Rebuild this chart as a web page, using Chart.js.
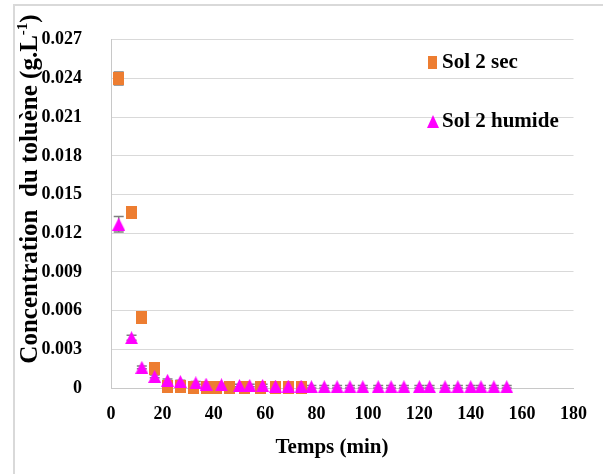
<!DOCTYPE html>
<html>
<head>
<meta charset="utf-8">
<script src="https://cdn.jsdelivr.net/npm/chart.js@4"></script>
<style>
  body { margin: 0; background: #fff; }
  #wrap { width: 603px; height: 474px; }
</style>
</head>
<body>
<div id="wrap"><canvas id="myChart" width="603" height="474"></canvas></div>
<script>
// Sol 2 sec
const timeSec = [3, 8, 12, 17, 22, 27, 32, 37, 41, 46, 52, 58, 64, 69, 74];
const concSec = [0.0240, 0.0136, 0.0055, 0.0015, 0.0001, 0.00008, 0.00005, 0.00005, 0.00005, 0.00005, 0.00005, 0.00005, 0.00005, 0.00005, 0.00005];
const errSec = [0.0005, 0.0002, 0.0001, 0.0001, 0, 0, 0, 0, 0, 0, 0, 0, 0, 0, 0];

// Sol 2 humide
const timeHum = [3, 8, 12, 17, 22, 27, 33, 37, 43, 50, 54, 59, 64, 69, 74, 78, 83, 88, 93, 98, 104, 109, 114, 120, 124, 130, 135, 140, 144, 149, 154];
const concHum = [0.0127, 0.0039, 0.0016, 0.0009, 0.0006, 0.0005, 0.0004, 0.0003, 0.00025, 0.0002, 0.0002, 0.0002, 0.00015, 0.00015, 0.00015, 0.0001, 0.0001, 0.0001, 0.0001, 0.0001, 0.0001, 0.0001, 0.0001, 0.0001, 0.0001, 0.0001, 0.0001, 0.0001, 0.0001, 0.0001, 0.0001];
const errHum = [0.0006, 0.0002, 0.0001, 0.0001, 0.0001, 0.0001, 0.0001, 0.0001, 0.0001, 0.0001, 0.0001, 0.0001, 0.0001, 0.0001, 0.0001, 0.0001, 0.0001, 0.0001, 0.0001, 0.0001, 0.0001, 0.0001, 0.0001, 0.0001, 0.0001, 0.0001, 0.0001, 0.0001, 0.0001, 0.0001, 0.0001];

const xTicks = [0, 20, 40, 60, 80, 100, 120, 140, 160, 180];
const yTicks = [0, 0.003, 0.006, 0.009, 0.012, 0.015, 0.018, 0.021, 0.024, 0.027];

const seriesNames = ["Sol 2 sec", "Sol 2 humide"];
const xTitle = "Temps (min)";
const yTitle = ["Concentration  du toluène (g.L", "-1", ")"];

const serif = "'Liberation Serif', 'Times New Roman', serif";
const ORANGE = "#ED7D31";
const MAGENTA = "#FF00FF";
const GRID = "#d9d9d9";

// marker images, centred on the value like the spreadsheet markers
function squareMarker(w, h, color) {
  const m = document.createElement("canvas");
  m.width = w;
  m.height = h;
  const c = m.getContext("2d");
  c.fillStyle = color;
  c.fillRect(0, 0, w, h);
  return m;
}

function triangleMarker(w, h, color) {
  const m = document.createElement("canvas");
  m.width = w;
  m.height = h;
  const c = m.getContext("2d");
  c.fillStyle = color;
  c.beginPath();
  c.moveTo(w / 2, 0);
  c.lineTo(w, h);
  c.lineTo(0, h);
  c.closePath();
  c.fill();
  return m;
}

const squareImg = squareMarker(11, 13, ORANGE);
const triangleImg = triangleMarker(13, 13, MAGENTA);

const ctx = document.getElementById("myChart");

const frame = {
  id: "frame",
  beforeDraw(chart) {
    const c = chart.ctx;
    c.save();
    c.fillStyle = "#fff";
    c.fillRect(0, 0, chart.width, chart.height);
    c.strokeStyle = GRID;
    c.lineWidth = 2;
    c.beginPath();
    c.moveTo(14, chart.height);
    c.lineTo(14, 5);
    c.lineTo(chart.width, 5);
    c.stroke();
    c.restore();
  },
};

const errorBars = {
  id: "errorBars",
  beforeDatasetsDraw(chart) {
    const c = chart.ctx;
    const x = chart.scales.x;
    const y = chart.scales.y;
    c.save();
    c.strokeStyle = "#7f7f7f";
    c.lineWidth = 1.5;
    chart.data.datasets.forEach((ds) => {
      ds.data.forEach((p, i) => {
        const e = ds.errors[i];
        if (!e) return;
        const px = x.getPixelForValue(p.x);
        const top = y.getPixelForValue(p.y + e);
        const bot = y.getPixelForValue(Math.max(p.y - e, 0));
        c.beginPath();
        c.moveTo(px, top);
        c.lineTo(px, bot);
        c.moveTo(px - 5, top);
        c.lineTo(px + 5, top);
        c.moveTo(px - 5, bot);
        c.lineTo(px + 5, bot);
        c.stroke();
      });
    });
    c.restore();
  },
};

const titlesAndLegend = {
  id: "titlesAndLegend",
  afterDraw(chart) {
    const c = chart.ctx;
    c.save();
    c.fillStyle = "#000";
    c.textBaseline = "middle";

    // x title
    c.font = "bold 21px " + serif;
    c.textAlign = "center";
    c.fillText(xTitle, 332, 448);

    // y title (with superscript)
    c.translate(31, 189);
    c.rotate(-Math.PI / 2);
    c.textAlign = "left";
    const big = "bold 25px " + serif;
    const small = "bold 15px " + serif;
    c.font = big;
    const w0 = c.measureText(yTitle[0]).width;
    const w2 = c.measureText(yTitle[2]).width;
    c.font = small;
    const w1 = c.measureText(yTitle[1]).width;
    let sx = -(w0 + w1 + w2) / 2;
    c.font = big;
    c.fillText(yTitle[0], sx, 0);
    sx += w0;
    c.font = small;
    c.fillText(yTitle[1], sx, -8);
    sx += w1;
    c.font = big;
    c.fillText(yTitle[2], sx, 0);
    c.restore();

    // legend inside plot
    c.save();
    c.textBaseline = "middle";
    c.textAlign = "left";
    c.font = "bold 21px " + serif;
    c.fillStyle = ORANGE;
    c.fillRect(428, 56, 9, 13);
    c.fillStyle = MAGENTA;
    c.beginPath();
    c.moveTo(433, 115);
    c.lineTo(439, 128);
    c.lineTo(427, 128);
    c.closePath();
    c.fill();
    c.fillStyle = "#000";
    c.fillText(seriesNames[0], 442, 63);
    c.fillText(seriesNames[1], 442, 122);
    c.restore();
  },
};

new Chart(ctx, {
  type: "scatter",
  data: {
    datasets: [
      {
        label: seriesNames[0],
        data: timeSec.map((t, i) => ({ x: t, y: concSec[i] })),
        errors: errSec,
        pointStyle: squareImg,
        pointRadius: 7,
        backgroundColor: ORANGE,
        borderWidth: 0,
        clip: false,
        order: 2,
      },
      {
        label: seriesNames[1],
        data: timeHum.map((t, i) => ({ x: t, y: concHum[i] })),
        errors: errHum,
        pointStyle: triangleImg,
        pointRadius: 7,
        backgroundColor: MAGENTA,
        borderWidth: 0,
        clip: false,
        order: 1,
      },
    ],
  },
  options: {
    responsive: false,
    animation: false,
    events: [],
    layout: { padding: { top: 30, right: 25, bottom: 0, left: 0 } },
    plugins: {
      legend: { display: false },
      tooltip: { enabled: false },
    },
    scales: {
      x: {
        type: "linear",
        min: 0,
        max: 180,
        afterBuildTicks: (scale) => {
          scale.ticks = xTicks.map((v) => ({ value: v }));
        },
        afterFit: (scale) => {
          scale.height = 86;
        },
        grid: { display: false, drawTicks: false },
        border: { display: true, color: "#c8c8c8", width: 1 },
        ticks: {
          padding: 16,
          color: "#000",
          font: { family: serif, size: 18, weight: "bold" },
        },
      },
      y: {
        type: "linear",
        min: 0,
        max: 0.027,
        afterBuildTicks: (scale) => {
          scale.ticks = yTicks.map((v) => ({ value: v }));
        },
        afterFit: (scale) => {
          scale.width = 111;
        },
        grid: { color: GRID, lineWidth: 1, drawTicks: false },
        border: { display: true, color: "#c8c8c8", width: 1 },
        ticks: {
          padding: 29,
          color: "#000",
          font: { family: serif, size: 18, weight: "bold" },
          callback: (v) => (v === 0 ? "0" : v.toFixed(3)),
        },
      },
    },
  },
  plugins: [frame, errorBars, titlesAndLegend],
});
</script>
</body>
</html>
